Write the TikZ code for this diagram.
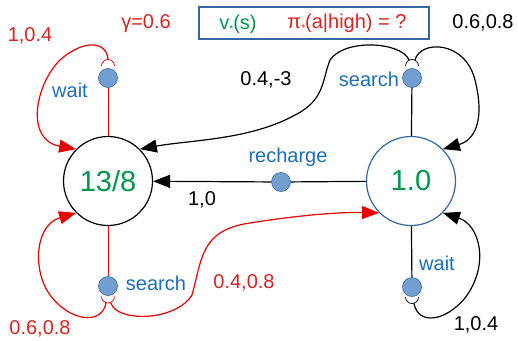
\documentclass[tikz,border=0pt]{standalone}
\usepackage{fontspec}
\setmainfont{Liberation Sans}
\usetikzlibrary{arrows.meta}
\definecolor{lblred}{RGB}{214,36,36}
\definecolor{lblblue}{RGB}{28,110,186}
\definecolor{lblgreen}{RGB}{0,150,80}
\definecolor{dotfill}{RGB}{114,159,207}
\definecolor{dotline}{RGB}{52,101,164}
\newcommand{\edgered}{red!90!black}
\newcommand{\substar}{\raisebox{-3pt}{\fontsize{10}{10}\selectfont *}}
\tikzset{every path/.style={line width=1.2pt}}
\tikzset{
  state/.style={circle, draw, minimum size=89pt, inner sep=0pt, text=lblgreen, font=\fontsize{29}{34}\selectfont},
  act/.style={circle, fill=dotfill, draw=dotline, line width=.6pt, minimum size=19pt, inner sep=0pt},
  lbl/.style={font=\fontsize{20}{24}\selectfont},
  tip/.style={-{Triangle[length=17pt,width=13pt]}}
}

\begin{document}
\begin{tikzpicture}[x=1pt,y=-1pt]
\useasboundingbox (0,0) rectangle (518,340);

\node[state] (lo) at (108,181) {13/8};
\node[state, draw=dotline] (hi) at (411,181) {1.0};
\node[act] (lw) at (108,78) {};
\node[act] (ls) at (108,286) {};
\node[act] (hs) at (412,78) {};
\node[act] (hw) at (412,287) {};
\node[act] (rc) at (281,182) {};

\draw[\edgered, line width=1pt] (lo) -- (lw);
\draw[\edgered, line width=1pt] (lo) -- (ls);
\draw (hi) -- (hs);
\draw (hi) -- (hw);
\draw (hi) -- (rc);
\draw[tip] (rc) -- (lo);

\draw[\edgered, line width=.7pt] (101.5,66) arc[start angle=180, end angle=0, radius=6.5pt];
\draw[\edgered, line width=.7pt] (101.5,296.5) arc[start angle=180, end angle=360, radius=6.5pt];
\draw[line width=.7pt] (405.5,66) arc[start angle=180, end angle=0, radius=6.5pt];
\draw[line width=.7pt] (405.5,297) arc[start angle=180, end angle=360, radius=6.5pt];

\draw[\edgered, tip] (108,59.5) .. controls (107,42) and (85,38) .. (60,60) .. controls (35,85) and (25,140) .. (lo.135);
\draw[\edgered, tip] (106,303) .. controls (102,325) and (70,322) .. (50,295) .. controls (32,270) and (35,225) .. (lo.225);
\draw[\edgered, tip] (111,303) .. controls (116,322) and (175,322) .. (192,295) .. controls (202,260) and (200,230) .. (250,223) .. controls (300,215) and (340,212) .. (hi.225);
\draw[tip] (409,60) .. controls (402,42) and (345,38) .. (330,60) .. controls (322,80) and (325,100) .. (295,115) .. controls (250,140) and (190,140) .. (lo.45);
\draw[tip] (415,60) .. controls (420,40) and (465,40) .. (475,80) .. controls (485,120) and (475,140) .. (hi.45);
\draw[tip] (414,303.5) .. controls (418,325) and (445,322) .. (465,298) .. controls (490,265) and (480,225) .. (hi.-45);

\node[draw=dotline, minimum width=230pt, minimum height=32pt, inner sep=0pt] (box) at (314,23) {};
\node[lbl, text=lblgreen] (vs) at (238,24) {v\substar(s)};
\node[lbl, text=lblred] (pi) at (347,23) {π\substar(a|high) = ?};

\node[lbl, text=lblred] (gam) at (146,24) {γ=0.6};
\node[lbl, text=lblred] at (30,36) {1,0.4};
\node[lbl] at (483,23) {0.6,0.8};
\node[lbl, text=lblblue] at (70,90) {wait};
\node[lbl] at (266,80) {0.4,-3};
\node[lbl, text=lblblue] at (369,79) {search};
\node[lbl, text=lblblue] at (288,157) {recharge};
\node[lbl] at (202,200) {1,0};
\node[lbl, text=lblblue] at (437,263) {wait};
\node[lbl, text=lblblue] at (156,283) {search};
\node[lbl, text=lblred] at (244,283) {0.4,0.8};
\node[lbl, text=lblred] at (40,329) {0.6,0.8};
\node[lbl] at (476,325) {1,0.4};
\end{tikzpicture}
\end{document}
